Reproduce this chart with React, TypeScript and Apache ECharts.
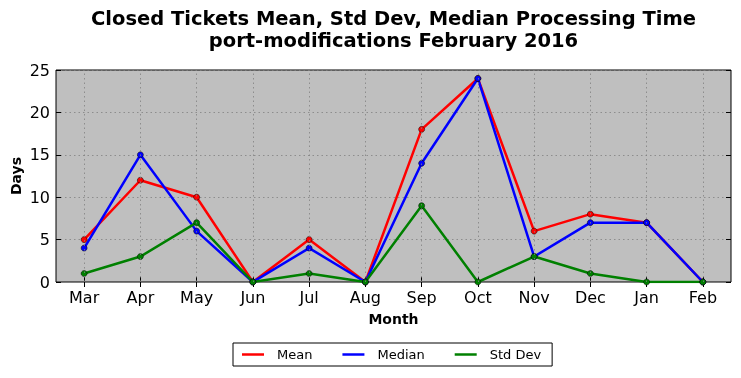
import React, { useEffect, useRef } from "react";
import * as echarts from "echarts";

const months = ["Mar", "Apr", "May", "Jun", "Jul", "Aug", "Sep", "Oct", "Nov", "Dec", "Jan", "Feb"];
const meanValues = [5, 12, 10, 0, 5, 0, 18, 24, 6, 8, 7, 0];
const medianValues = [4, 15, 6, 0, 4, 0, 14, 24, 3, 7, 7, 0];
const stdValues = [1, 3, 7, 0, 1, 0, 9, 0, 3, 1, 0, 0];
const titleLines = ["Closed Tickets Mean, Std Dev, Median Processing Time", "port-modifications February 2016"];
const yAxisTitle = "Days";

const FONT = "DejaVu Sans";
const GRID_LINE = { color: "#808080", type: [1.5, 3], width: 0.8 };

export default function App() {
  const ref = useRef<HTMLDivElement>(null);
  useEffect(() => {
    if (!ref.current) return;
    const chart = echarts.init(ref.current, null, { renderer: "svg" });
    const mkSeries = (name: string, data: number[], color: string) => ({
      name,
      type: "line",
      data,
      z: 3,
      symbol: "circle",
      symbolSize: 6,
      showSymbol: true,
      lineStyle: { color, width: 2.5 },
      itemStyle: { color, borderColor: "#000", borderWidth: 0.5 },
      emphasis: { disabled: true },
    });
    chart.setOption({
      animation: false,
      textStyle: { fontFamily: FONT },
      graphic: [
        {
          type: "text",
          x: 393.5,
          y: 7,
          style: {
            text: titleLines.join("\n"),
            fontFamily: FONT,
            fontSize: 19.5,
            fontWeight: "bold",
            fill: "#000",
            align: "center",
            lineHeight: 22,
          },
        },
        {
          type: "text",
          x: 16,
          y: 176,
          rotation: Math.PI / 2,
          style: {
            text: yAxisTitle,
            fontFamily: FONT,
            fontSize: 14,
            fontWeight: "bold",
            fill: "#000",
            align: "center",
            verticalAlign: "middle",
          },
        },
      ],
      grid: {
        left: 56,
        right: 10,
        top: 70,
        bottom: 96,
        outerBoundsMode: "none",
        containLabel: false,
        show: true,
        backgroundColor: "#bfbfbf",
        borderColor: "#000",
        borderWidth: 1,
      },
      legend: {
        left: 233,
        top: 343,
        data: ["Mean", "Median", "Std Dev"],
        icon: "rect",
        itemWidth: 22,
        itemHeight: 2.5,
        itemGap: 30,
        itemStyle: { borderWidth: 0 },
        borderColor: "#000",
        borderWidth: 1,
        borderRadius: 0,
        padding: [5, 11, 5, 9],
        textStyle: { fontFamily: FONT, fontSize: 13, color: "#000", padding: [0, 0, 0, 8] },
      },
      xAxis: [
        {
          type: "category",
          data: months,
          boundaryGap: true,
          name: "Month",
          nameLocation: "middle",
          nameGap: 30,
          nameTextStyle: { fontFamily: FONT, fontSize: 14, fontWeight: "bold", color: "#000" },
          axisLine: { show: false },
          axisTick: { show: true, inside: true, alignWithLabel: true, length: 5, lineStyle: { color: "#000" } },
          axisLabel: { fontFamily: FONT, fontSize: 16, color: "#000", margin: 7 },
          splitLine: { show: false },
        },
        {
          type: "category",
          data: months,
          position: "top",
          boundaryGap: true,
          axisLine: { show: false },
          axisTick: { show: true, inside: true, alignWithLabel: true, length: 5, lineStyle: { color: "#000" } },
          axisLabel: { show: false },
          splitLine: { show: false },
        },
      ],
      yAxis: [
        {
          type: "value",
          min: 0,
          max: 25,
          interval: 5,
          axisLine: { show: false },
          axisTick: { show: true, inside: true, length: 5, lineStyle: { color: "#000" } },
          axisLabel: { fontFamily: FONT, fontSize: 16, color: "#000", margin: 6 },
          splitLine: { show: true, lineStyle: GRID_LINE },
        },
        {
          type: "value",
          min: 0,
          max: 25,
          interval: 5,
          position: "right",
          axisLine: { show: false },
          axisTick: { show: true, inside: true, length: 5, lineStyle: { color: "#000" } },
          axisLabel: { show: false },
          splitLine: { show: false },
        },
      ],
      series: [
        {
          name: "_grid",
          type: "line",
          data: [],
          z: 1,
          silent: true,
          markLine: {
            silent: true,
            symbol: "none",
            label: { show: false },
            lineStyle: GRID_LINE,
            emphasis: { disabled: true },
            data: months.map((m) => ({ xAxis: m })),
          },
        },
        mkSeries("Mean", meanValues, "#ff0000"),
        mkSeries("Median", medianValues, "#0000ff"),
        mkSeries("Std Dev", stdValues, "#008000"),
      ],
    });
    return () => chart.dispose();
  }, []);
  return <div ref={ref} style={{ position: "fixed", left: 0, top: 0, width: 741, height: 378 }} />;
}
